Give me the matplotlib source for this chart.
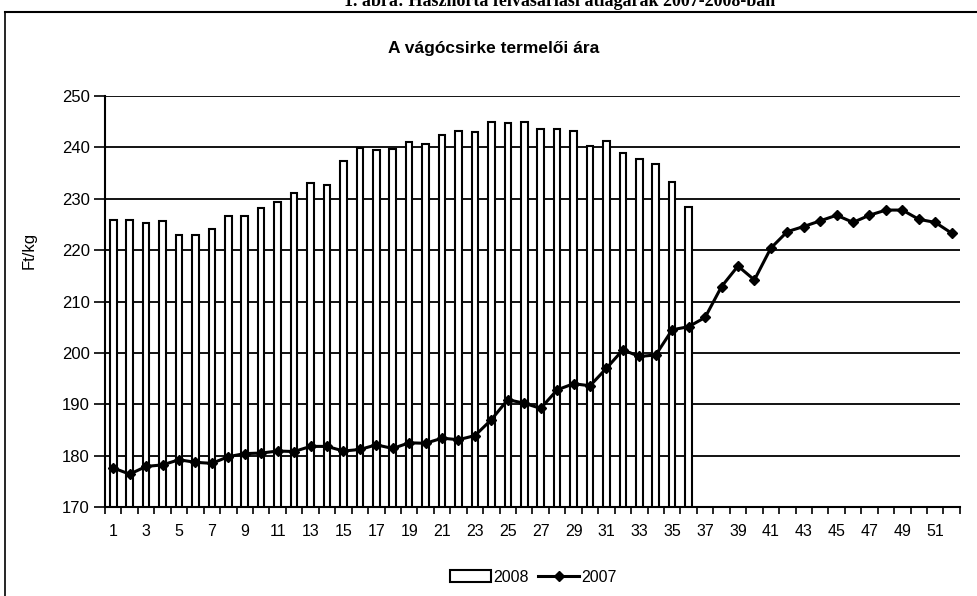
import numpy as np
import matplotlib
matplotlib.use("Agg")
import matplotlib.pyplot as plt
from matplotlib.lines import Line2D

# weekly producer price of broiler chicken, Ft/kg
weeks = list(range(1, 53))
price_2008 = [225.9, 225.9, 225.3, 225.7, 223.0, 223.0, 224.1, 226.7, 226.7, 228.2,
              229.4, 231.1, 233.0, 232.7, 237.4, 239.8, 239.5, 239.6, 241.0, 240.6,
              242.5, 243.1, 243.0, 245.0, 244.8, 245.0, 243.5, 243.5, 243.2, 240.3,
              241.2, 238.9, 237.7, 236.8, 233.3, 228.4]
price_2007 = [177.6, 176.4, 177.9, 178.2, 179.2, 178.7, 178.5, 179.8, 180.4, 180.5,
              180.9, 180.8, 181.8, 181.8, 180.9, 181.2, 182.1, 181.4, 182.5, 182.4,
              183.4, 183.1, 183.9, 187.0, 190.9, 190.2, 189.2, 192.8, 194.0, 193.6,
              197.0, 200.6, 199.3, 199.6, 204.5, 205.1, 206.9, 212.9, 216.9, 214.2,
              220.4, 223.6, 224.6, 225.7, 226.8, 225.4, 226.8, 227.8, 227.8, 226.0,
              225.4, 223.3]
yticks = list(range(170, 251, 10))
xlabels = [str(w) for w in range(1, 52, 2)]

plt.rcParams["font.family"] = ["Liberation Sans", "DejaVu Sans"]

fig = plt.figure(figsize=(9.77, 5.96), dpi=100)
ax = fig.add_axes([0.1075, 0.1493, 0.875, 0.6896])

weeks_2008 = weeks[:len(price_2008)]
bars = ax.bar(weeks_2008, price_2008, width=0.4, color="white", edgecolor="black",
              linewidth=1.5, zorder=2, label="2008")
line, = ax.plot(weeks, price_2007, color="black", lw=2.2, marker="D", ms=5,
                zorder=3, label="2007")

ax.set_xlim(0.5, 52.5)
ax.set_ylim(170, 250)
ax.set_yticks(yticks)
ax.set_yticklabels([str(v) for v in yticks], fontsize=12)
ax.yaxis.grid(True, color="black", lw=1.3, zorder=0)
ax.set_axisbelow(True)
ax.tick_params(axis="y", direction="out", length=8, width=1.2, pad=3)

ax.set_xticks(range(1, 52, 2))
ax.set_xticklabels(xlabels, fontsize=11.5)
ax.set_xticks(np.arange(0.5, 53, 1), minor=True)
ax.tick_params(axis="x", which="major", length=0, pad=12)
ax.tick_params(axis="x", which="minor", direction="out", length=5, width=1.2)

for s in ("top", "right"):
    ax.spines[s].set_visible(False)
for s in ("left", "bottom"):
    ax.spines[s].set_linewidth(1.5)

ax.set_ylabel("Ft/kg", fontsize=12)
ax.yaxis.set_label_coords(-0.08, 0.625)

fig.text(0.505, 0.919, "A vágócsirke termelői ára", ha="center", va="center",
         fontsize=12.5, fontweight="bold")

# caption of the page, cut off by the scan
fig.text(0.573, 0.998, "1. ábra: Hasznorta felvásárlási átlagárak 2007-2008-ban",
         ha="center", va="center", fontsize=13, fontweight="bold",
         family=["Liberation Serif", "DejaVu Serif"])

# chart area frame (left and top edges only visible)
fig.add_artist(Line2D([5 / 977, 5 / 977], [0, 1 - 12 / 596], color="black", lw=1.2))
fig.add_artist(Line2D([5 / 977, 1], [1 - 12 / 596, 1 - 12 / 596], color="black", lw=1.5))

ax.legend([bars, line], ["2008", "2007"], loc="center",
          bbox_to_anchor=(533 / 977, 1 - 577 / 596),
          bbox_transform=fig.transFigure, ncol=2, frameon=False, fontsize=11.5,
          handlelength=2.6, handletextpad=0.1, columnspacing=0.6)

fig.savefig("out.png", dpi=100)
